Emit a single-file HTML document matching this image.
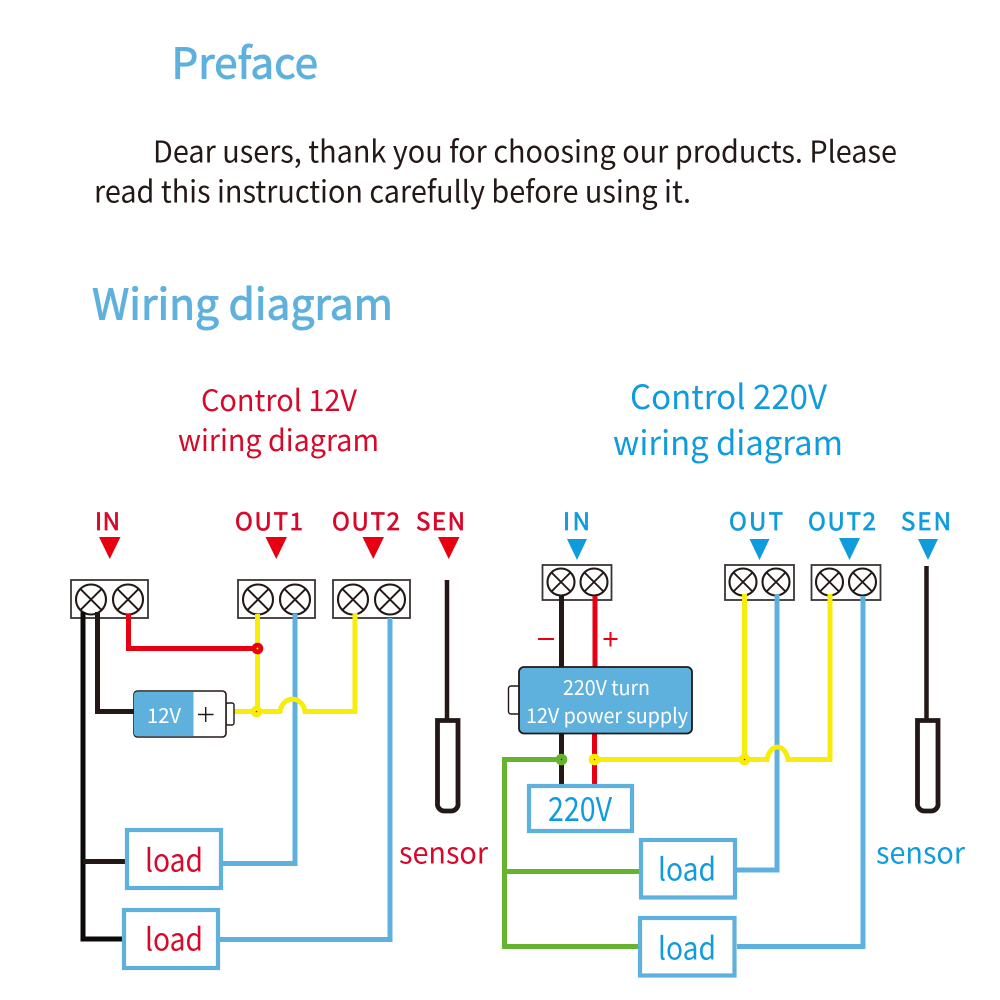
<!DOCTYPE html>
<html lang="en">
<head>
<meta charset="utf-8">
<title>Wiring diagram</title>
<style>
html,body{margin:0;padding:0;background:#fff;width:1000px;height:1000px;overflow:hidden}
svg{display:block}
text{font-family:"Noto Sans CJK SC","Liberation Sans",sans-serif}
.w{fill:none;stroke-linejoin:miter;stroke-linecap:butt}
.t rect{fill:#fff;stroke:#3a3535;stroke-width:1.8}
.t circle{fill:#fff;stroke:#231815;stroke-width:2.1}
.t path{fill:none;stroke:#231815;stroke-width:1.9}
</style>
</head>
<body>
<svg width="1000" height="1000" viewBox="0 0 1000 1000" xmlns="http://www.w3.org/2000/svg">
<rect width="1000" height="1000" fill="#fff"/>

<!-- headings -->
<g fill="#5fb1dd" stroke="#5fb1dd" stroke-width="0.9">
<text x="171.500" y="78.500" font-size="42.500" textLength="146.500" lengthAdjust="spacingAndGlyphs">Preface</text>
<text x="92" y="319.500" font-size="42.500" textLength="301" lengthAdjust="spacingAndGlyphs">Wiring diagram</text>
</g>
<g fill="#231815" font-size="30">
<text x="153" y="162.500" textLength="744" lengthAdjust="spacingAndGlyphs">Dear users, thank you for choosing our products. Please</text>
<text x="94" y="202.500" textLength="597" lengthAdjust="spacingAndGlyphs">read this instruction carefully before using it.</text>
</g>
<g fill="#d7092a" font-size="29.500">
<text x="201" y="411" textLength="156" lengthAdjust="spacingAndGlyphs">Control 12V</text>
<text x="178" y="451" textLength="201" lengthAdjust="spacingAndGlyphs">wiring diagram</text>
</g>
<g fill="#109cdc" font-size="33.500">
<text x="630" y="409" textLength="197" lengthAdjust="spacingAndGlyphs">Control 220V</text>
<text x="613" y="455" textLength="230" lengthAdjust="spacingAndGlyphs">wiring diagram</text>
</g>

<!-- port labels left -->
<g fill="#d7092a" stroke="#d7092a" stroke-width="0.7" font-size="24">
<text x="95" y="530" textLength="25" lengthAdjust="spacing">IN</text>
<text x="235" y="530" textLength="68" lengthAdjust="spacing">OUT1</text>
<text x="332" y="530" textLength="68" lengthAdjust="spacing">OUT2</text>
<text x="416" y="530" textLength="49" lengthAdjust="spacing">SEN</text>
</g>
<g fill="#e60012">
<path d="M99 537h21.500l-10.750 22z"/>
<path d="M265.500 537h21.500l-10.750 22z"/>
<path d="M362.500 537h21.500l-10.750 22z"/>
<path d="M438 537h21.500l-10.750 22z"/>
</g>
<!-- port labels right -->
<g fill="#109cdc" stroke="#109cdc" stroke-width="0.7" font-size="24">
<text x="563" y="530" textLength="27" lengthAdjust="spacing">IN</text>
<text x="729" y="530" textLength="54" lengthAdjust="spacing">OUT</text>
<text x="808" y="530" textLength="68" lengthAdjust="spacing">OUT2</text>
<text x="901" y="530" textLength="50" lengthAdjust="spacing">SEN</text>
</g>
<g fill="#109cdc">
<path d="M567 539h20l-10 21z"/>
<path d="M749.500 539h20l-10 21z"/>
<path d="M839 538h21l-10.500 22z"/>
<path d="M918 539h20l-10 21z"/>
</g>

<!-- left terminals -->
<g class="t">
<rect x="71" y="580" width="77" height="38"/>
<circle cx="91" cy="599.500" r="15"/><path d="M80.400 588.900l21.200 21.200M101.600 588.900l-21.200 21.200"/>
<circle cx="128" cy="599.500" r="15"/><path d="M117.400 588.900l21.200 21.200M138.600 588.900l-21.200 21.200"/>
<rect x="238" y="580" width="77" height="38"/>
<circle cx="258" cy="599.500" r="15"/><path d="M247.400 588.900l21.200 21.200M268.600 588.900l-21.200 21.200"/>
<circle cx="295" cy="599.500" r="15"/><path d="M284.400 588.900l21.200 21.200M305.600 588.900l-21.200 21.200"/>
<rect x="333" y="580" width="77" height="38"/>
<circle cx="353" cy="599.500" r="15"/><path d="M342.400 588.900l21.200 21.200M363.600 588.900l-21.200 21.200"/>
<circle cx="390" cy="599.500" r="15"/><path d="M379.400 588.900l21.200 21.200M400.600 588.900l-21.200 21.200"/>
</g>
<!-- right terminals -->
<g class="t">
<rect x="542.500" y="565" width="69" height="35"/>
<circle cx="561" cy="582" r="13.500"/><path d="M551.500 572.500l19 19M570.500 572.500l-19 19"/>
<circle cx="594" cy="582" r="13.500"/><path d="M584.500 572.500l19 19M603.500 572.500l-19 19"/>
<rect x="725" y="565" width="69" height="35"/>
<circle cx="743" cy="582" r="13.500"/><path d="M733.500 572.500l19 19M752.500 572.500l-19 19"/>
<circle cx="776" cy="582" r="13.500"/><path d="M766.500 572.500l19 19M785.500 572.500l-19 19"/>
<rect x="811.500" y="565" width="69" height="35"/>
<circle cx="829.500" cy="582" r="13.500"/><path d="M820 572.500l19 19M839 572.500l-19 19"/>
<circle cx="862.500" cy="582" r="13.500"/><path d="M853 572.500l19 19M872 572.500l-19 19"/>
</g>

<!-- left wires -->
<path class="w" d="M83 612V939H122" stroke="#0d0a0a" stroke-width="5"/>
<path class="w" d="M83 861.500H125" stroke="#231815" stroke-width="5"/>
<path class="w" d="M97.500 612V711.500H134" stroke="#231815" stroke-width="5"/>
<path class="w" d="M128.500 614V648.500H258" stroke="#e60012" stroke-width="5"/>
<path class="w" d="M295 614V863.500H223" stroke="#5fb1dd" stroke-width="5"/>
<path class="w" d="M390 618V939.500H220" stroke="#5fb1dd" stroke-width="5"/>
<path class="w" d="M257.500 614V711" stroke="#f8ec0a" stroke-width="5"/>
<path class="w" d="M234 711.500H280C283 695 302 695 305 711.500H355V613" stroke="#f8ec0a" stroke-width="5"/>
<circle cx="257.500" cy="648.500" r="5.800" fill="#e60012"/>
<circle cx="257.500" cy="648.500" r="1" fill="#f8ec0a"/>
<circle cx="256.500" cy="711.500" r="5.800" fill="#f8ec0a"/>
<circle cx="256.500" cy="711.500" r="0.800" fill="#e60012"/>

<!-- battery -->
<rect x="226" y="703" width="8" height="22" rx="2" fill="#fff" stroke="#231815" stroke-width="1.400"/>
<rect x="134" y="691" width="92" height="46" rx="3.500" fill="#fff" stroke="#231815" stroke-width="1.600"/>
<path d="M137 691.700H193.500V736.300H137a3 3 0 0 1-3-3V694.700a3 3 0 0 1 3-3z" fill="#5fb1dd"/>
<text x="147" y="723" font-size="20.500" fill="#fff" textLength="34" lengthAdjust="spacingAndGlyphs">12V</text>
<path d="M198 714.500h15.500M205.700 707v15" stroke="#231815" stroke-width="1.400" fill="none"/>

<!-- left sensor -->
<path class="w" d="M447 580V720" stroke="#231815" stroke-width="4.500"/>
<path d="M437.500 720.500H458V803a7 7 0 0 1-7 8h-6.500a7 7 0 0 1-7-8z" fill="#fff" stroke="#231815" stroke-width="4.800"/>

<!-- left loads -->
<g fill="#fff" stroke="#5fb1dd" stroke-width="4.200">
<rect x="127" y="830" width="94" height="58"/>
<rect x="124" y="910" width="94" height="58"/>
</g>
<g fill="#d7092a" font-size="31">
<text x="145" y="871.500" textLength="58" lengthAdjust="spacingAndGlyphs">load</text>
<text x="145" y="950.500" textLength="58" lengthAdjust="spacingAndGlyphs">load</text>
<text x="399" y="863.500" font-size="29.500" textLength="89" lengthAdjust="spacingAndGlyphs">sensor</text>
</g>

<!-- right wires -->
<path class="w" d="M561.500 596V668" stroke="#231815" stroke-width="5"/>
<path class="w" d="M595 596V668" stroke="#e60012" stroke-width="5"/>
<path class="w" d="M561.500 732V785" stroke="#231815" stroke-width="5"/>
<path class="w" d="M594.500 732V785" stroke="#e60012" stroke-width="5"/>
<path class="w" d="M561 759.500H504.500V946.500H641" stroke="#65b32e" stroke-width="5"/>
<path class="w" d="M504.500 871.500H641" stroke="#65b32e" stroke-width="5"/>
<path class="w" d="M777 594V870H737" stroke="#5fb1dd" stroke-width="5"/>
<path class="w" d="M863 596V946.500H737" stroke="#5fb1dd" stroke-width="5"/>
<path class="w" d="M744.500 594V759" stroke="#f8ec0a" stroke-width="5"/>
<path class="w" d="M594 759.500H767C770 743 785 743 788 759.500H830V594" stroke="#f8ec0a" stroke-width="5"/>
<circle cx="561.500" cy="759.500" r="5.800" fill="#65b32e"/>
<circle cx="561.500" cy="759.500" r="0.700" fill="#231815"/>
<circle cx="594.500" cy="759.500" r="5.800" fill="#f8ec0a"/>
<circle cx="594.500" cy="759.500" r="0.800" fill="#e60012"/>
<circle cx="744.500" cy="759.500" r="5.800" fill="#f8ec0a"/>
<circle cx="744.500" cy="759.500" r="0.800" fill="#e60012"/>

<!-- minus / plus -->
<path d="M538 639h16" stroke="#e60012" stroke-width="2" fill="none"/>
<path d="M603.500 639h14M610.500 632v14.500" stroke="#e60012" stroke-width="2" fill="none"/>

<!-- power supply -->
<rect x="508.500" y="686" width="12" height="28" rx="2.500" fill="#fff" stroke="#231815" stroke-width="1.400"/>
<rect x="519" y="667" width="173" height="66.500" rx="5" fill="#5fb1dd" stroke="#231815" stroke-width="1.800"/>
<text x="563" y="695" font-size="20.500" fill="#fff" textLength="87" lengthAdjust="spacingAndGlyphs">220V turn</text>
<text x="526" y="723" font-size="20.500" fill="#fff" textLength="162" lengthAdjust="spacingAndGlyphs">12V power supply</text>

<!-- 220V box & right loads -->
<g fill="#fff" stroke="#5fb1dd" stroke-width="4.200">
<rect x="529" y="786" width="103" height="45"/>
<rect x="641" y="840" width="94" height="57.500"/>
<rect x="640" y="918" width="94.500" height="57.500"/>
</g>
<g fill="#109cdc" font-size="31">
<text x="548" y="821" font-size="33" textLength="64" lengthAdjust="spacingAndGlyphs">220V</text>
<text x="658" y="880.500" textLength="58" lengthAdjust="spacingAndGlyphs">load</text>
<text x="658" y="959.500" textLength="58" lengthAdjust="spacingAndGlyphs">load</text>
<text x="876" y="863.500" font-size="29.500" textLength="89" lengthAdjust="spacingAndGlyphs">sensor</text>
</g>

<!-- right sensor -->
<path class="w" d="M926.500 566V720" stroke="#231815" stroke-width="4.500"/>
<path d="M917.500 720.500H938V803a7 7 0 0 1-7 8h-6.500a7 7 0 0 1-7-8z" fill="#fff" stroke="#231815" stroke-width="4.800"/>
</svg>
</body>
</html>
